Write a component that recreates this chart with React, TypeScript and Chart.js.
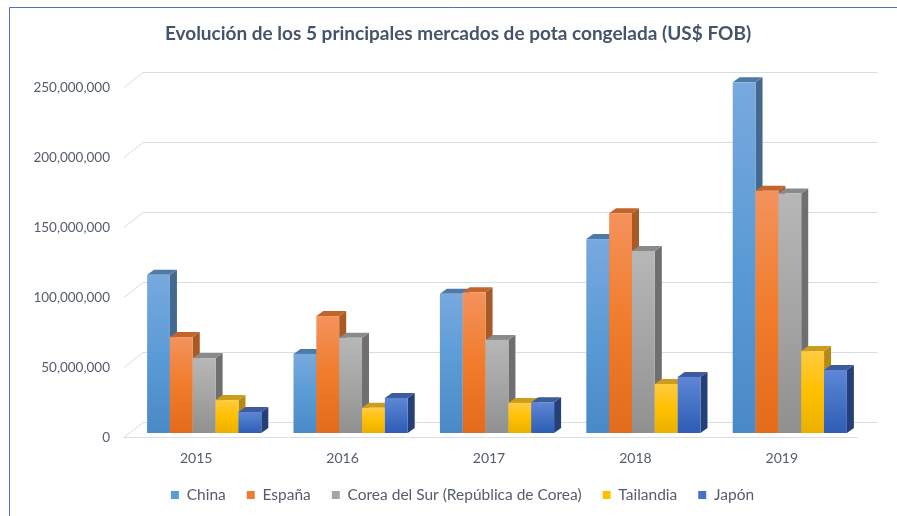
import React, { useEffect, useRef } from "react";
import { Chart, registerables } from "chart.js";

Chart.register(...registerables);

const TITLE = "Evolución de los 5 principales mercados de pota congelada (US$ FOB)";
const categories = ["2015", "2016", "2017", "2018", "2019"];
const seriesNames = ["China", "España", "Corea del Sur (República de Corea)", "Tailandia", "Japón"];
const china = [113000000, 56500000, 99500000, 138500000, 250500000];
const espana = [68500000, 83500000, 100500000, 157000000, 173000000];
const corea = [53500000, 68000000, 66500000, 130000000, 171000000];
const tailandia = [23500000, 18000000, 21500000, 35000000, 58500000];
const japon = [15000000, 25000000, 22000000, 40000000, 45000000];
const yTicks = [0, 50000000, 100000000, 150000000, 200000000, 250000000];

const legendColors = ["#5b9bd5", "#ed7d31", "#a5a5a5", "#ffc000", "#4472c4"];
const frontTop = ["#78a9df", "#f4925c", "#b7b7b7", "#ffcb40", "#5f86d8"];
const frontMid = ["#5b9bd5", "#f07c2c", "#a5a5a5", "#ffc000", "#4472c4"];
const frontBot = ["#4a89c7", "#e36b1c", "#909090", "#ebb000", "#2f5cb5"];
const sideCol = ["#44698f", "#a85a26", "#6f6f6f", "#b48a16", "#253f78"];
const topCol = ["#4e7aa8", "#c0652c", "#8a8a8a", "#cd9c1e", "#3d5c9b"];

const FONT = "Lato, 'Open Sans', sans-serif";
const TEXT = "#555d6b";
const DX = 7;
const DY = 5;
const LEG_PAD = 21;
const LEG_FONT = 15.5;
const PLOT_BOTTOM = 433;
const LEGEND_CENTER_Y = 495;

const threeD = {
  id: "threeD",
  beforeDraw(chart: any) {
    const ctx = chart.ctx;
    ctx.save();
    ctx.fillStyle = "#ffffff";
    ctx.fillRect(0, 0, chart.width, chart.height);
    ctx.strokeStyle = "#4a72c2";
    ctx.lineWidth = 1;
    ctx.beginPath();
    ctx.moveTo(9.5, chart.height);
    ctx.lineTo(9.5, 7.5);
    ctx.lineTo(chart.width, 7.5);
    ctx.stroke();
    ctx.restore();
  },
  afterLayout(chart: any) {
    const lg = chart.legend;
    if (lg) {
      const h = lg.height;
      lg.left += 31;
      lg.right += 31;
      lg.top = LEGEND_CENTER_Y - LEG_PAD - LEG_FONT / 2;
      lg.bottom = lg.top + h;
    }
    const tb = chart.titleBlock;
    if (tb) {
      tb.left += 26.5;
      tb.right += 26.5;
    }
  },
  beforeDatasetsDraw(chart: any) {
    const { ctx, chartArea } = chart;
    const y = chart.scales.y;
    const fL = chartArea.left - 7;
    const fR = chartArea.right - 5;
    const bdx = 19;
    const bdy = 15;
    ctx.save();
    ctx.strokeStyle = "#d9dee6";
    ctx.lineWidth = 1;
    yTicks.forEach((v) => {
      const py = Math.round(y.getPixelForValue(v)) + 4 + 0.5;
      ctx.beginPath();
      ctx.moveTo(fL, py);
      ctx.lineTo(fL + bdx, py - bdy);
      ctx.lineTo(fR + bdx, py - bdy);
      ctx.stroke();
    });
    const p0 = Math.round(y.getPixelForValue(0)) + 4 + 0.5;
    ctx.beginPath();
    ctx.moveTo(fL, p0);
    ctx.lineTo(fR, p0);
    ctx.stroke();
    ctx.restore();
  },
  beforeDatasetDraw() {
    return false;
  },
  afterDatasetsDraw(chart: any) {
    const ctx = chart.ctx;
    ctx.save();
    chart.data.datasets.forEach((_ds: any, di: number) => {
      const meta = chart.getDatasetMeta(di);
      meta.data.forEach((bar: any) => {
        const { x, y, base, width } = bar;
        const l = x - width / 2;
        const r = x + width / 2;
        ctx.fillStyle = sideCol[di];
        ctx.beginPath();
        ctx.moveTo(r, y);
        ctx.lineTo(r + DX, y - DY);
        ctx.lineTo(r + DX, base - DY);
        ctx.lineTo(r, base);
        ctx.closePath();
        ctx.fill();
        ctx.fillStyle = topCol[di];
        ctx.beginPath();
        ctx.moveTo(l, y);
        ctx.lineTo(l + DX, y - DY);
        ctx.lineTo(r + DX, y - DY);
        ctx.lineTo(r, y);
        ctx.closePath();
        ctx.fill();
        const g = ctx.createLinearGradient(0, y, 0, base);
        g.addColorStop(0, frontTop[di]);
        g.addColorStop(0.5, frontMid[di]);
        g.addColorStop(1, frontBot[di]);
        ctx.fillStyle = g;
        ctx.fillRect(l, y, width, base - y);
      });
    });
    ctx.restore();
  },
};

export default function App() {
  const ref = useRef<HTMLCanvasElement | null>(null);
  useEffect(() => {
    if (!ref.current) return;
    const values = [china, espana, corea, tailandia, japon];
    const chart = new Chart(ref.current, {
      type: "bar",
      data: {
        labels: categories,
        datasets: seriesNames.map((name, i) => ({
          label: name,
          data: values[i],
          backgroundColor: legendColors[i],
          borderWidth: 0,
          categoryPercentage: 0.78,
          barPercentage: 1.0,
        })),
      },
      options: {
        animation: false,
        responsive: false,
        devicePixelRatio: 1,
        layout: { padding: { left: 0, right: 34, top: 0, bottom: 0 } },
        plugins: {
          title: {
            display: true,
            text: TITLE,
            color: "#44546a",
            font: { family: FONT, size: 19, weight: "bold" },
            padding: { top: 22.6, bottom: 37.6 },
          },
          legend: {
            position: "bottom",
            labels: {
              boxWidth: 8,
              boxHeight: 8,
              padding: LEG_PAD,
              color: TEXT,
              font: { family: FONT, size: LEG_FONT },
            },
          },
          tooltip: { enabled: false },
        },
        scales: {
          x: {
            grid: { display: false, drawTicks: false },
            border: { display: false },
            ticks: { color: TEXT, font: { family: FONT, size: 14 }, padding: 17, labelOffset: -8 },
            afterFit: (s: any) => {
              const lh = s.chart.legend ? s.chart.legend.height : 0;
              s.height = 516 - PLOT_BOTTOM - lh;
            },
          },
          y: {
            min: 0,
            max: 250000000,
            grid: { display: false, drawTicks: false },
            border: { display: false },
            ticks: {
              stepSize: 50000000,
              color: TEXT,
              font: { family: FONT, size: 13.5 },
              padding: 21,
              labelOffset: 5,
              callback: (v: any) => Number(v).toLocaleString("en-US"),
            },
            afterFit: (s: any) => {
              s.width = 131;
            },
          },
        },
      },
      plugins: [threeD],
    } as any);
    return () => chart.destroy();
  }, []);
  return (
    <div style={{ position: "fixed", left: 0, top: 0, width: 897, height: 516, background: "#fff" }}>
      <canvas ref={ref} width={897} height={516} style={{ width: 897, height: 516, display: "block" }} />
    </div>
  );
}
